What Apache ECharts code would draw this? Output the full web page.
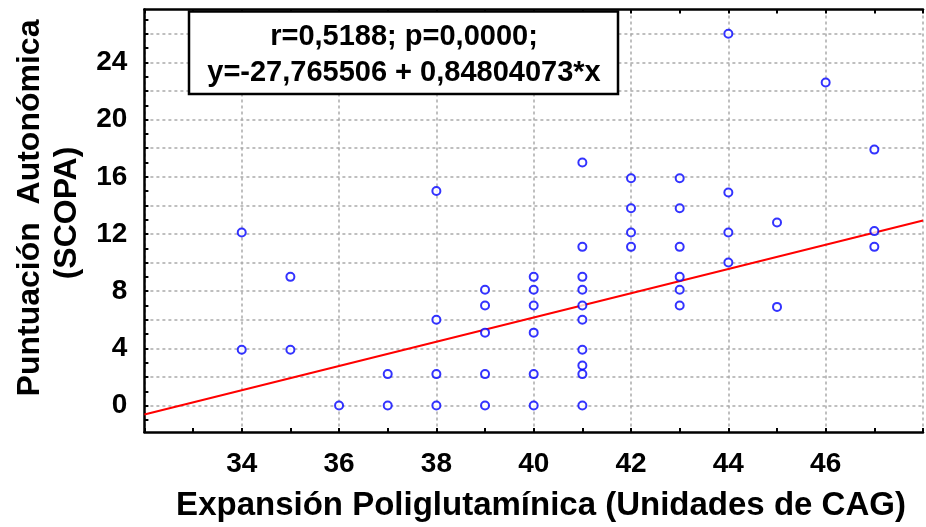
<!DOCTYPE html>
<html>
<head>
<meta charset="utf-8">
<script src="https://cdn.jsdelivr.net/npm/echarts@6/dist/echarts.min.js"></script>
<style>
html,body{margin:0;padding:0;background:#fff;}
#chart{width:926px;height:527px;}
</style>
</head>
<body>
<div id="chart"></div>
<script>
// CAG repeat units (x) and SCOPA autonomic score (y)
const cag = [34,34, 35,35, 36, 37,37, 38,38,38,38, 39,39,39,39,39, 40,40,40,40,40,40,
  41,41,41,41,41,41,41,41,41,41, 42,42,42,42, 43,43,43,43,43,43, 44,44,44,44, 45,45, 46, 47,47,47];
const scopa = [12.1,3.9, 9,3.9, 0, 2.2,0, 15,6,2.2,0, 8.1,7,5.1,2.2,0, 9,8.1,7,5.1,2.2,0,
  17,11.1,9,8.1,7,6,3.9,2.8,2.2,0, 15.9,13.8,12.1,11.1, 15.9,13.8,11.1,9,8.1,7, 26,14.9,12.1,10, 12.8,6.9, 22.6, 17.9,12.2,11.1];
// fitted regression line end points
const fitX = [32, 48];
const fitY = [-0.63, 12.94];
// ticks and labels
const xLabels = [34, 36, 38, 40, 42, 44, 46];
const yTicks = [-1,0,1,2,3,4,5,6,7,8,9,10,11,12,13,14,15,16,17,18,19,20,21,22,23,24,25,26,27];
const yGrid = [0,2,4,6,8,10,12,14,16,18,20,22,24,26];
const yLabels = [0, 4, 8, 12, 16, 20, 24];
const statLine1 = 'r=0,5188; p=0,0000;';
const statLine2 = 'y=-27,765506 + 0,84804073*x';
const xTitle = 'Expansión Poliglutamínica (Unidades de CAG)';
const yTitle1 = 'Puntuación  Autonómica';
const yTitle2 = '(SCOPA)';

const FONT = '"Liberation Sans", Arial, sans-serif';
const gridLine = { show: true, lineStyle: { color: '#ababab', width: 1.5, type: [3, 3] } };
const tickStyle = { color: '#000', width: 2 };

const chart = echarts.init(document.getElementById('chart'), null, { renderer: 'canvas' });
chart.setOption({
  animation: false,
  backgroundColor: '#fff',
  grid: { left: 144.4, top: 9.5, width: 786.2, height: 422.5, containLabel: false },
  xAxis: [
    {
      type: 'value', min: 32, max: 48, interval: 2, position: 'bottom',
      axisLine: { show: true, onZero: false, lineStyle: { color: '#000', width: 2.5 } },
      axisTick: { show: true, inside: true, length: 4, lineStyle: tickStyle },
      minorTick: { show: true, splitNumber: 2, length: 4, lineStyle: tickStyle },
      axisLabel: {
        margin: 18, fontSize: 28, fontWeight: 'bold', color: '#000', fontFamily: FONT,
        formatter: v => xLabels.indexOf(v) >= 0 ? String(v) : ''
      },
      splitLine: gridLine,
      minorSplitLine: { show: false }
    },
    {
      type: 'value', min: 32, max: 48, interval: 2, position: 'top',
      axisLine: { show: true, onZero: false, lineStyle: { color: '#000', width: 2.5 } },
      axisTick: { show: true, inside: true, length: 4, lineStyle: tickStyle },
      minorTick: { show: true, splitNumber: 2, length: 4, lineStyle: tickStyle },
      axisLabel: { show: false },
      splitLine: { show: false }
    }
  ],
  yAxis: [
    {
      type: 'value', min: -1.85, max: 27.7, position: 'left',
      axisLine: { show: true, onZero: false, lineStyle: { color: '#000', width: 2.5 } },
      axisTick: { show: true, inside: true, length: 4, lineStyle: tickStyle, customValues: yTicks },
      axisLabel: {
        customValues: yLabels, margin: 17, fontSize: 28, fontWeight: 'bold', color: '#000', fontFamily: FONT
      },
      splitLine: { show: false }
    },
    {
      type: 'value', min: -1.85, max: 27.7, position: 'left',
      axisLine: { show: false },
      axisTick: { show: false, customValues: yGrid },
      axisLabel: { show: false, customValues: yGrid },
      splitLine: gridLine
    }
  ],
  series: [
    {
      type: 'line', xAxisIndex: 0, yAxisIndex: 0,
      data: fitX.map((x, i) => [x, fitY[i]]),
      symbol: 'none', lineStyle: { color: '#ff0000', width: 2 }, z: 2, silent: true
    },
    {
      type: 'scatter', xAxisIndex: 0, yAxisIndex: 0,
      data: cag.map((x, i) => [x, scopa[i]]),
      symbol: 'emptyCircle', symbolSize: 8,
      itemStyle: { color: '#0000ff', borderColor: '#0000ff', borderWidth: 2.6 }, z: 3
    }
  ],
  graphic: [
    {
      type: 'rect', z: 100,
      shape: { x: 189, y: 11.5, width: 429, height: 82.5 },
      style: { fill: '#fff', stroke: '#000', lineWidth: 2.5 }
    },
    {
      type: 'text', z: 101, x: 404, y: 37,
      style: { text: statLine1, fontSize: 29, fontWeight: 'bold', fontFamily: FONT, fill: '#000', align: 'center', verticalAlign: 'middle' }
    },
    {
      type: 'text', z: 101, x: 404, y: 73,
      style: { text: statLine2, fontSize: 29, fontWeight: 'bold', fontFamily: FONT, fill: '#000', align: 'center', verticalAlign: 'middle' }
    },
    {
      type: 'text', z: 101, x: 541, y: 506,
      style: { text: xTitle, fontSize: 33, fontWeight: 'bold', fontFamily: FONT, fill: '#000', align: 'center', verticalAlign: 'middle' }
    },
    {
      type: 'text', z: 101, x: 30, y: 208, rotation: Math.PI / 2,
      style: { text: yTitle1, fontSize: 32, fontWeight: 'bold', fontFamily: FONT, fill: '#000', align: 'center', verticalAlign: 'middle' }
    },
    {
      type: 'text', z: 101, x: 67, y: 213, rotation: Math.PI / 2,
      style: { text: yTitle2, fontSize: 32, fontWeight: 'bold', fontFamily: FONT, fill: '#000', align: 'center', verticalAlign: 'middle' }
    }
  ]
});
</script>
</body>
</html>
